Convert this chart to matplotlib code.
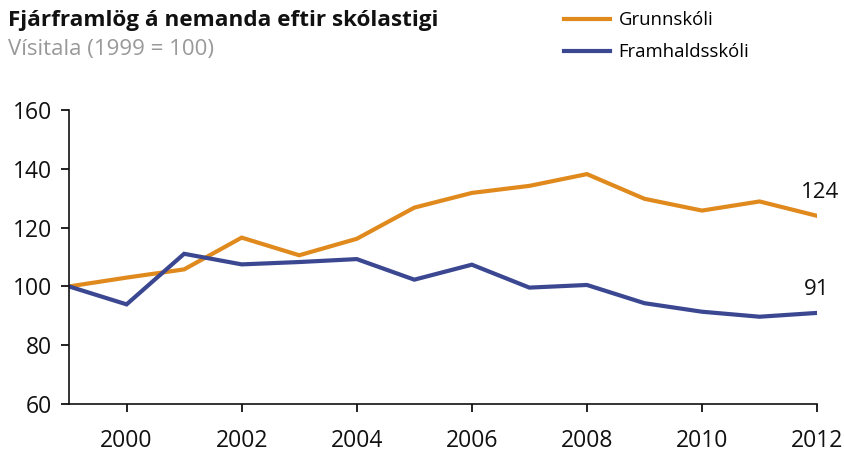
import matplotlib.pyplot as plt
from matplotlib.lines import Line2D

years = list(range(1999, 2013))
grunnskoli = [100, 103, 105.8, 116.6, 110.6, 116.2, 126.8, 131.8, 134.2,
              138.2, 129.8, 125.8, 128.9, 124]
framhaldsskoli = [100, 93.9, 111.1, 107.5, 108.3, 109.3, 102.3, 107.4, 99.6,
                  100.5, 94.3, 91.4, 89.7, 91]
series_labels = ["Grunnskóli", "Framhaldsskóli"]
colors = ["#E08A1E", "#3B4891"]

plt.rcParams["font.family"] = ["Open Sans", "DejaVu Sans"]

fig = plt.figure(figsize=(8.45, 4.54), dpi=100)
ax = fig.add_axes([0.0817, 0.110, 0.8853, 0.6477])

ax.plot(years, grunnskoli, color=colors[0], lw=3, solid_joinstyle="miter")
ax.plot(years, framhaldsskoli, color=colors[1], lw=3, solid_joinstyle="miter")

# end-of-line value labels
ax.annotate(f"{grunnskoli[-1]:.0f}", (years[-1], grunnskoli[-1]),
            xytext=(2, 9), textcoords="offset points",
            ha="center", va="bottom", fontsize=16, color="#111111")
ax.annotate(f"{framhaldsskoli[-1]:.0f}", (years[-1], framhaldsskoli[-1]),
            xytext=(0, 9), textcoords="offset points",
            ha="center", va="bottom", fontsize=16, color="#111111")

ax.set_xlim(1999, 2012)
ax.set_ylim(60, 160)
ax.set_xticks(range(2000, 2013, 2))
ax.set_yticks(range(60, 161, 20))

for side in ["top", "right"]:
    ax.spines[side].set_visible(False)
for side in ["left", "bottom"]:
    ax.spines[side].set_linewidth(1.2)
    ax.spines[side].set_color("#111111")

ax.tick_params(axis="both", direction="out", length=6, width=1.3,
               labelsize=16.5, colors="#111111")
ax.tick_params(axis="x", pad=12)
ax.tick_params(axis="y", pad=6)

fig.text(0.0095, 0.955, "Fjárframlög á nemanda eftir skólastigi",
         fontsize=16.2, fontweight="bold", color="#111111", va="center")
fig.text(0.0095, 0.892, "Vísitala (1999 = 100)",
         fontsize=16, color="#999999", va="center")

handles = [Line2D([], [], color=c, lw=3) for c in colors]
fig.legend(handles, series_labels, loc="upper left",
           bbox_to_anchor=(0.648, 1.012), frameon=False, fontsize=13.3,
           handlelength=2.5, handletextpad=0.45, labelspacing=0.75)

plt.savefig("out.png", dpi=100)
